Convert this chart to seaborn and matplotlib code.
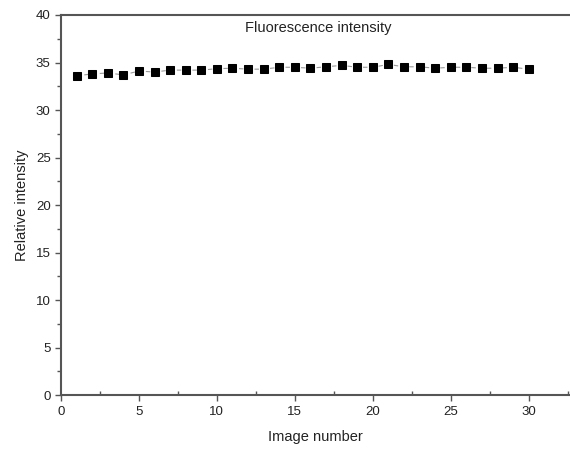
import matplotlib
matplotlib.use("Agg")
import matplotlib.pyplot as plt
import seaborn as sns
import pandas as pd
from matplotlib.ticker import MultipleLocator

# values
image_number = list(range(1, 31))
intensity = [33.6, 33.8, 33.9, 33.7, 34.1, 34.0, 34.2, 34.2, 34.2, 34.35,
             34.4, 34.3, 34.3, 34.5, 34.5, 34.4, 34.55, 34.7, 34.5, 34.5,
             34.8, 34.55, 34.55, 34.4, 34.5, 34.5, 34.4, 34.4, 34.5, 34.3]

df = pd.DataFrame({"Image number": image_number, "Relative intensity": intensity})

sns.set_style("white")
plt.rcParams["font.family"] = ["Liberation Sans", "DejaVu Sans"]

fig = plt.figure(figsize=(5.7, 4.49), dpi=100)
ax = fig.add_axes([0.107, 0.120, 0.893, 0.8466])

sns.lineplot(data=df, x="Image number", y="Relative intensity", ax=ax,
             color="#999999", linestyle=(0, (4, 3)), linewidth=0.8,
             marker="s", markersize=6, markerfacecolor="black",
             markeredgecolor="black")

ax.set_xlim(0, 32.65)
ax.set_ylim(0, 40)
ax.xaxis.set_major_locator(MultipleLocator(5))
ax.xaxis.set_minor_locator(MultipleLocator(2.5))
ax.yaxis.set_major_locator(MultipleLocator(5))
ax.yaxis.set_minor_locator(MultipleLocator(2.5))

spine_color = "#555555"
for side in ["left", "bottom", "top"]:
    ax.spines[side].set_color(spine_color)
    ax.spines[side].set_linewidth(1.5)
ax.spines["right"].set_visible(False)

ax.tick_params(axis="both", which="major", direction="out", length=4,
               width=1, color=spine_color, labelsize=9.5, labelcolor="#222222",
               bottom=True, left=True)
ax.tick_params(axis="x", which="minor", direction="in", length=3, width=1,
               color=spine_color, bottom=True)
ax.tick_params(axis="y", which="minor", direction="out", length=3, width=1,
               color=spine_color, left=True)

ax.set_xlabel("Image number", fontsize=10.5, color="#222222", labelpad=9)
ax.set_ylabel("Relative intensity", fontsize=10.5, color="#222222", labelpad=5)
ax.text(0.505, 0.985, "Fluorescence intensity", transform=ax.transAxes,
        ha="center", va="top", fontsize=10.5, color="#222222")

fig.savefig("out.png", dpi=100)
